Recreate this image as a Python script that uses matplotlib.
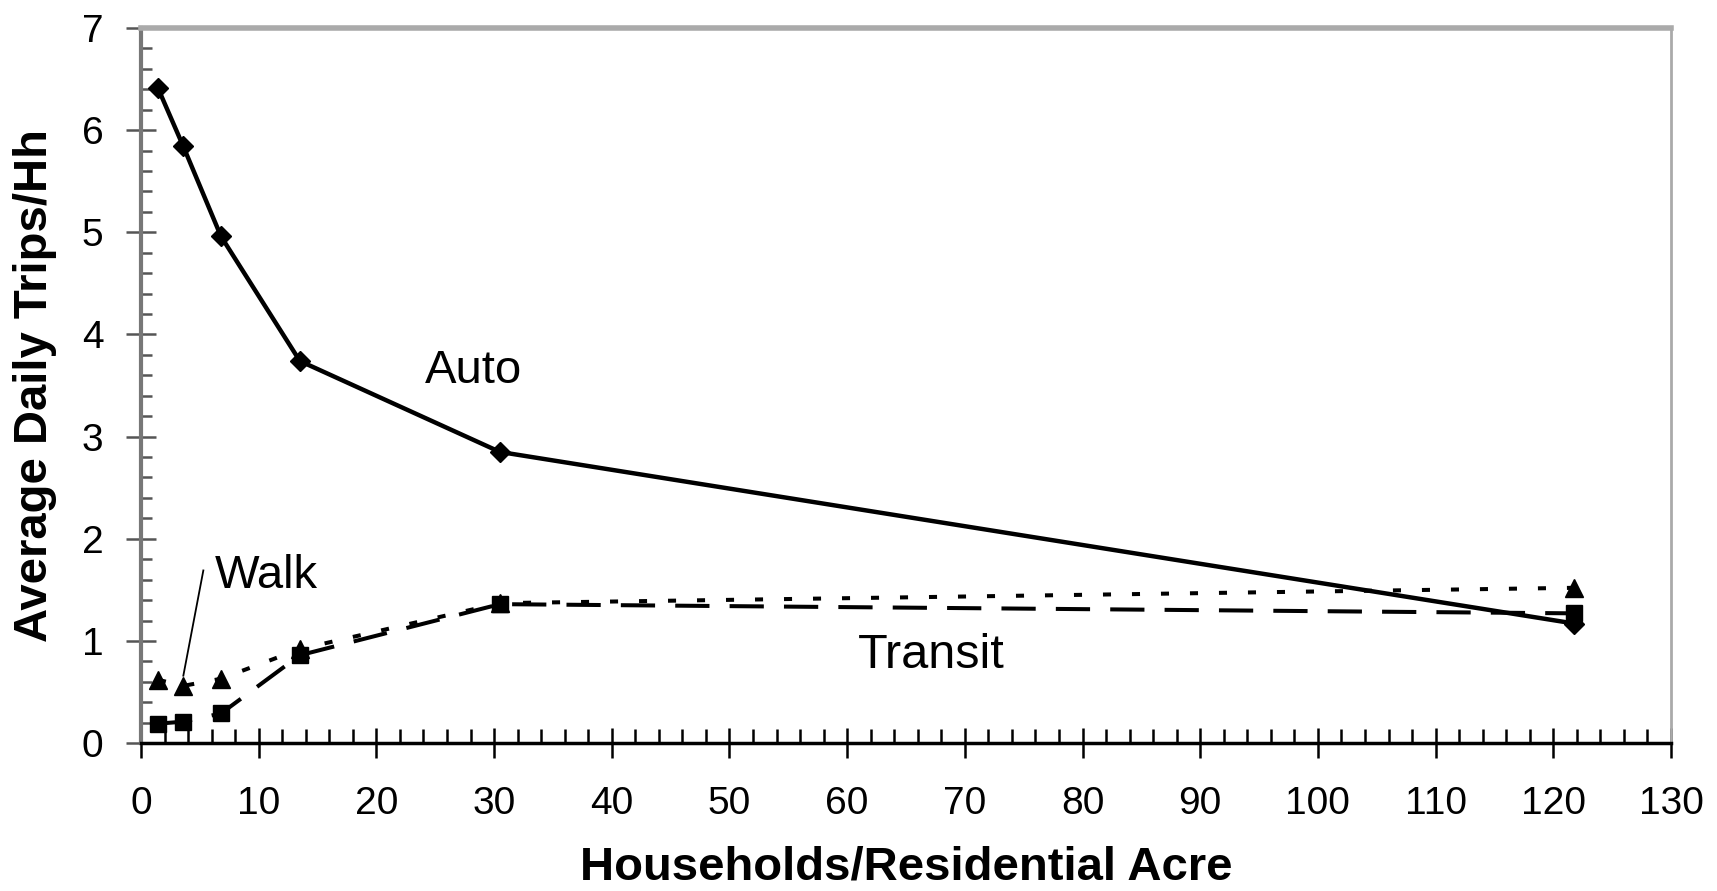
import matplotlib
matplotlib.use("Agg")
import matplotlib.pyplot as plt
from matplotlib.ticker import MultipleLocator

plt.rcParams["font.family"] = ["Liberation Sans", "DejaVu Sans"]

# households per residential acre (density classes)
density = [1.45, 3.6, 6.8, 13.5, 30.5, 121.8]

auto_trips = [6.41, 5.84, 4.96, 3.74, 2.85, 1.17]
transit_trips = [0.19, 0.21, 0.29, 0.86, 1.36, 1.27]
walk_trips = [0.62, 0.56, 0.63, 0.92, 1.37, 1.52]

x_ticks = list(range(0, 131, 10))
y_ticks = list(range(0, 8))

fig = plt.figure(figsize=(17.17, 8.91), dpi=100)
ax = fig.add_axes([0.0821, 0.166, 0.8911, 0.8026])

ax.plot(density, auto_trips, color="black", lw=3.2, marker="D", ms=10,
        solid_joinstyle="miter")
ax.plot(density, transit_trips, color="black", lw=2.9, ls=(0, (8.5, 5)),
        marker="s", ms=12)
ax.plot(density, walk_trips, color="black", lw=2.9, ls=(0, (2, 5.2)),
        marker="^", ms=13)

ax.text(24.1, 3.64, "Auto", fontsize=34, va="center", ha="left")
ax.text(60.9, 0.86, "Transit", fontsize=35, va="center", ha="left")
ax.text(6.3, 1.64, "Walk", fontsize=34, va="center", ha="left")
ax.plot([5.3, 3.6], [1.69, 0.66], color="black", lw=1.3)

ax.set_xlim(0, 130)
ax.set_ylim(0, 7)
ax.set_xticks(x_ticks)
ax.set_yticks(y_ticks)
ax.xaxis.set_minor_locator(MultipleLocator(2))
ax.yaxis.set_minor_locator(MultipleLocator(0.2))

ax.tick_params(axis="both", which="major", direction="inout", length=22,
               width=1.8, labelsize=28, color="black")
ax.tick_params(axis="x", which="major", pad=20)
ax.tick_params(axis="y", which="major", pad=16, color="#555555")
ax.tick_params(axis="x", which="minor", direction="in", length=10,
               width=1.8, color="black")
ax.tick_params(axis="y", which="minor", direction="in", length=8,
               width=1.8, color="#555555")

for side in ["top", "right"]:
    ax.spines[side].set_color("#aaaaaa")
ax.spines["left"].set_color("#777777")
ax.spines["top"].set_linewidth(4)
ax.spines["left"].set_linewidth(3)
ax.spines["right"].set_linewidth(2)
ax.spines["bottom"].set_linewidth(2.5)
ax.spines["bottom"].set_color("black")

ax.set_xlabel("Households/Residential Acre", fontsize=34, fontweight="bold",
              labelpad=17)
ax.set_ylabel("Average Daily Trips/Hh", fontsize=34, fontweight="bold",
              labelpad=18)

fig.savefig("out.png", dpi=100)
plt.close(fig)
